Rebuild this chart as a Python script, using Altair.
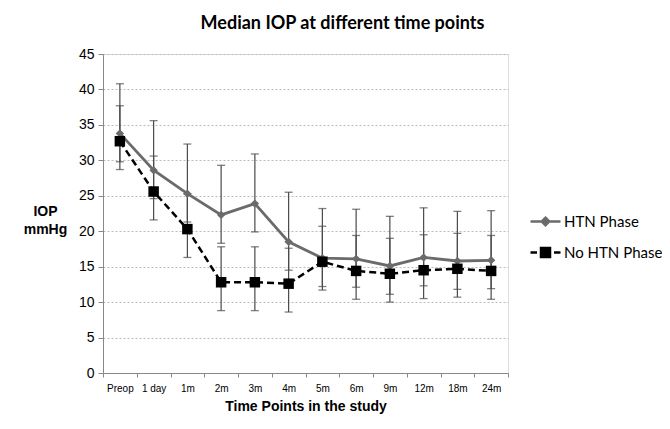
import altair as alt
import pandas as pd

categories = ["Preop", "1 day", "1m", "2m", "3m", "4m", "5m", "6m", "9m", "12m", "18m", "24m"]

htn = [33.8, 28.6, 25.3, 22.3, 23.9, 18.5, 16.2, 16.1, 15.1, 16.3, 15.8, 15.9]
htn_hi = [40.8, 35.6, 32.3, 29.3, 30.9, 25.5, 23.2, 23.1, 22.1, 23.3, 22.8, 22.9]
htn_lo = [29.8, 24.6, 21.3, 18.3, 19.9, 14.5, 12.2, 12.1, 11.1, 12.3, 11.8, 11.9]

nohtn = [32.7, 25.6, 20.3, 12.8, 12.8, 12.6, 15.7, 14.4, 14.0, 14.5, 14.7, 14.4]
nohtn_hi = [37.7, 30.6, 25.3, 17.8, 17.8, 17.6, 20.7, 19.4, 19.0, 19.5, 19.7, 19.4]
nohtn_lo = [28.7, 21.6, 16.3, 8.8, 8.8, 8.6, 11.7, 10.4, 10.0, 10.5, 10.7, 10.4]

y_ticks = [0, 5, 10, 15, 20, 25, 30, 35, 40, 45]
series_names = ["HTN Phase", "No HTN Phase"]
series_colors = ["#6b6b6b", "#000000"]
FONT = "Lato"

rows = []
for name, vals, lo, hi in [(series_names[0], htn, htn_lo, htn_hi),
                           (series_names[1], nohtn, nohtn_lo, nohtn_hi)]:
    for c, v, l, h in zip(categories, vals, lo, hi):
        rows.append({"cat": c, "value": v, "lo": l, "hi": h, "series": name})
df = pd.DataFrame(rows)

x = alt.X("cat:N", sort=categories, title="Time Points in the study",
          axis=alt.Axis(labelAngle=0, tickBand="extent", grid=False,
                        labelFontSize=10, labelPadding=6, titleFontSize=14,
                        titleFontWeight="bold", titlePadding=6,
                        domainColor="#888888", tickColor="#888888", tickSize=4))
y_scale = alt.Scale(domain=[0, 45], nice=False)
y_axis = alt.Axis(values=y_ticks, labelFontSize=14, labelPadding=4, labelOverlap=False,
                  grid=True, gridDash=[2, 2], gridColor="#bbbbbb",
                  domainColor="#888888", tickColor="#888888", tickSize=5,
                  titleAngle=0, titleFontSize=14, titleFontWeight="bold",
                  titleX=-58, titleY=157, titleAlign="center",
                  titleBaseline="middle", titleLineHeight=18)
Y_TITLE = ["IOP", "mmHg"]


def yenc(field):
    return alt.Y(field, scale=y_scale, axis=y_axis, title=Y_TITLE)


base = alt.Chart(df)

bars = base.mark_rule(color="#4a4a4a", strokeWidth=1.2).encode(
    x=x, y=yenc("lo:Q"), y2="hi:Q")
cap_lo = base.mark_tick(color="#4a4a4a", orient="horizontal", size=8, thickness=1.3).encode(
    x=x, y=yenc("lo:Q"))
cap_hi = base.mark_tick(color="#4a4a4a", orient="horizontal", size=8, thickness=1.3).encode(
    x=x, y=yenc("hi:Q"))

htn_df = base.transform_filter(alt.datum.series == series_names[0])
no_df = base.transform_filter(alt.datum.series == series_names[1])

htn_line = htn_df.mark_line(color=series_colors[0], strokeWidth=2.8).encode(x=x, y=yenc("value:Q"))
no_line = no_df.mark_line(color=series_colors[1], strokeWidth=2.5,
                          strokeDash=[7, 4]).encode(x=x, y=yenc("value:Q"))
htn_pts = htn_df.mark_point(shape="diamond", filled=True, size=70, opacity=1,
                            color=series_colors[0]).encode(x=x, y=yenc("value:Q"))
no_pts = no_df.mark_point(shape="square", filled=True, size=110, opacity=1,
                          color=series_colors[1]).encode(x=x, y=yenc("value:Q"))

diamond_path = "M-1.5,0H1.5M0,-0.38L0.38,0L0,0.38L-0.38,0Z"
square_path = "M-1.5,0H-0.85M0.85,0H1.5M-0.45,-0.45H0.45V0.45H-0.45Z"

leg = alt.Legend(title=None, orient="none", legendX=431, legendY=156,
                 symbolSize=400, symbolOpacity=1, symbolStrokeWidth=2.5,
                 labelFontSize=15, labelFont=FONT, rowPadding=10, labelOffset=7)
legend_layer = base.mark_point(opacity=0, strokeWidth=2.5).encode(
    x=x, y=yenc("value:Q"),
    stroke=alt.Stroke("series:N", scale=alt.Scale(domain=series_names, range=series_colors), legend=leg),
    fill=alt.Fill("series:N", scale=alt.Scale(domain=series_names, range=series_colors), legend=leg),
    shape=alt.Shape("series:N", scale=alt.Scale(domain=series_names, range=[diamond_path, square_path]), legend=leg),
)

chart = alt.layer(bars, cap_lo, cap_hi, htn_line, no_line, htn_pts, no_pts, legend_layer).properties(
    width=405, height=319,
    autosize=alt.AutoSizeParams(type="none"),
    padding={"left": 95, "top": 46, "right": 154, "bottom": 48},
    title=alt.Title("Median IOP at different time points", fontSize=18, fontWeight="bold",
                    font=FONT, anchor="middle", dx=37, offset=14, color="#000000"),
).configure_view(stroke=None).configure_axis(
    labelFont=FONT, titleFont=FONT, labelColor="#000000", titleColor="#000000"
).configure(background="white")

chart.save("out.html", embed_options={"renderer": "svg", "actions": False})
